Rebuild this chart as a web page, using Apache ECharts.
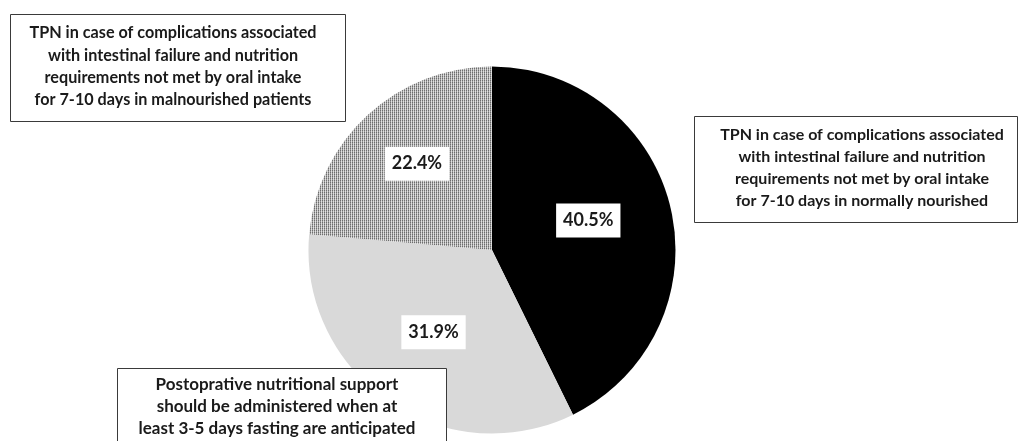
<!DOCTYPE html>
<html>
<head>
<meta charset="utf-8">
<script src="https://cdn.jsdelivr.net/npm/echarts@6/dist/echarts.min.js"></script>
<style>
html,body{margin:0;padding:0;background:#fff;}
#chart{width:1020px;height:441px;}
</style>
</head>
<body>
<div id="chart"></div>
<script>
// ---- data ----
var categories = [
  'TPN, normally nourished',
  'Postoperative nutritional support',
  'TPN, malnourished'
];
var values = [40.5, 31.9, 22.4];
var calloutTexts = [
  'TPN in case of complications associated\nwith intestinal failure and nutrition\nrequirements not met by oral intake\nfor 7-10 days in malnourished patients',
  'TPN in case of complications associated\nwith intestinal failure and nutrition\nrequirements not met by oral intake\nfor 7-10 days in normally nourished',
  'Postoprative nutritional support\nshould be administered when at\nleast 3-5 days fasting are anticipated'
];

// ---- dotted pattern ----
var pc = document.createElement('canvas');
pc.width = 2; pc.height = 2;
var pctx = pc.getContext('2d');
pctx.fillStyle = '#6e6e6e'; pctx.fillRect(0,0,1,1);
pctx.fillStyle = '#cfcfcf'; pctx.fillRect(1,0,1,1);
pctx.fillStyle = '#9a9a9a'; pctx.fillRect(0,1,1,1);
pctx.fillStyle = '#e2e2e2'; pctx.fillRect(1,1,1,1);

var fills = ['#000000', '#d9d9d9', {image: pc, repeat: 'repeat'}];
var labelOffsets = [[4,-8],[-5,4],[-11,-16.5]];

var FONT = 'Lato, "Open Sans", sans-serif';

var seriesData = values.map(function (v, i) {
  return {
    name: categories[i],
    value: v,
    itemStyle: {color: fills[i]},
    label: {offset: labelOffsets[i]}
  };
});

function callout(text, boxX, boxY, w, h, textX, textY, size, lineH) {
  return {
    type: 'group',
    z: 100,
    children: [
      {type: 'rect', z: 100, shape: {x: boxX, y: boxY, width: w, height: h},
       style: {fill: '#fff', stroke: '#3a3a3a', lineWidth: 1}},
      {type: 'text', z: 101, x: textX, y: textY,
       style: {text: text, fill: '#1a1a1a', align: 'center', verticalAlign: 'middle',
               font: 'bold ' + size + 'px ' + FONT, lineHeight: lineH}}
    ]
  };
}

var chart = echarts.init(document.getElementById('chart'));
chart.setOption({
  animation: false,
  backgroundColor: '#fff',
  series: [{
    type: 'pie',
    center: [492, 250],
    radius: 183.5,
    startAngle: 90,
    clockwise: true,
    silent: true,
    data: seriesData,
    labelLine: {show: false},
    label: {
      show: true,
      position: 'inside',
      formatter: '{c}%',
      color: '#1a1a1a',
      fontFamily: FONT,
      fontWeight: 'bold',
      fontSize: 18,
      backgroundColor: '#fff',
      padding: [8, 7]
    },
    itemStyle: {borderWidth: 0}
  }],
  graphic: [
    callout(calloutTexts[0], 10.5, 14.5, 335, 107, 173, 66.5, 16.2, 22.3),
    callout(calloutTexts[1], 694.5, 116.5, 323, 106, 862, 168, 16, 21.8),
    callout(calloutTexts[2], 117.5, 368.5, 329, 90, 277, 407, 17, 22)
  ]
});
</script>
</body>
</html>
